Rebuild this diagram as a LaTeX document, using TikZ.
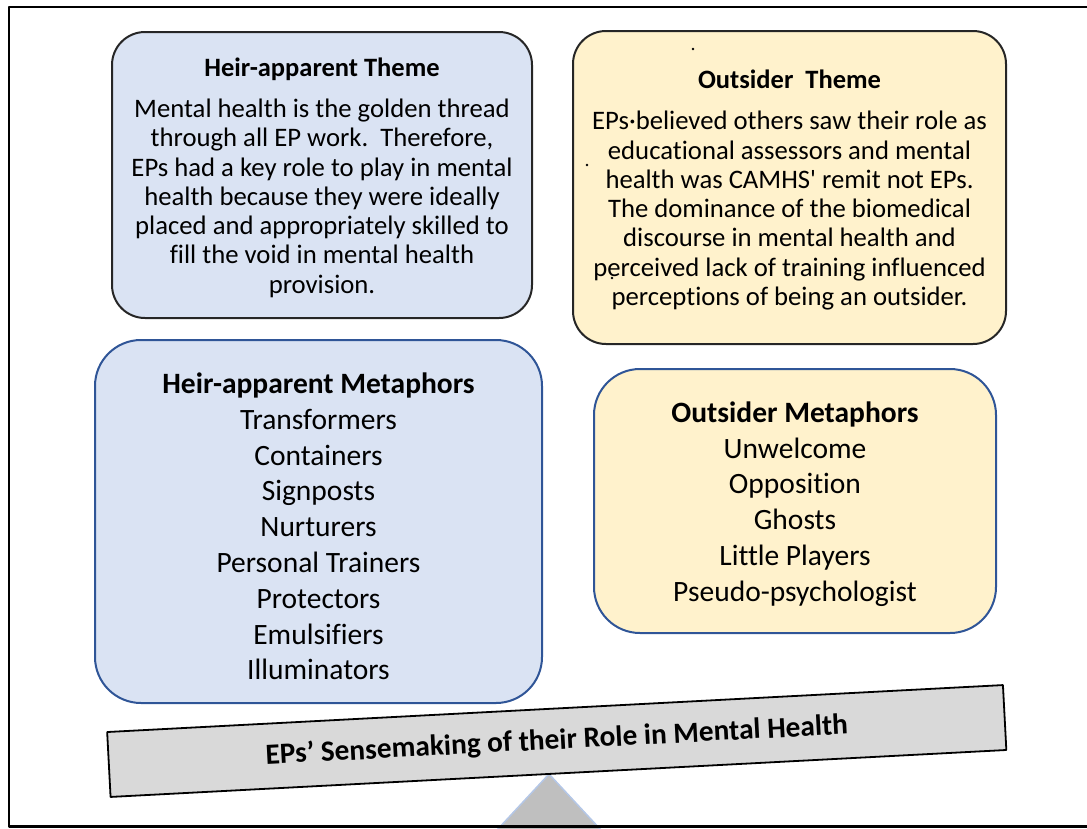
\documentclass[tikz,border=0pt]{standalone}
\usepackage{fontspec}
\setmainfont{Carlito}[Ligatures={TeXOff,CommonOff}]
\usepackage{tikz}
\definecolor{heirfill}{HTML}{DAE3F3}
\definecolor{outfill}{HTML}{FFF2CC}
\definecolor{metaline}{HTML}{2F5597}
\definecolor{beamfill}{HTML}{D9D9D9}
\definecolor{pivotfill}{HTML}{BFBFBF}
\definecolor{pivotline}{HTML}{B4C7E7}

\begin{document}
\begin{tikzpicture}[x=1pt,y=1pt,line join=round,
                    themetext/.style={align=center,font=\fontsize{26.7}{29.3}\selectfont},
                    metatext/.style={align=center,font=\fontsize{29.5}{35.8}\selectfont}]
  \tikzstyle{themebox}=[draw=black!85,line width=2pt,rounded corners=33pt,inner sep=0pt]
  \tikzstyle{metabox}=[draw=metaline,line width=2pt,rounded corners=46pt,inner sep=0pt]
  \tikzstyle{beambox}=[draw=black,line width=1.8pt,fill=beamfill,inner sep=0pt,
                       font=\bfseries\fontsize{29.3}{32}\selectfont]

  \useasboundingbox (0,0) rectangle (1087,-828);

  \node[themebox,fill=heirfill,minimum width=420,minimum height=286] (heirtheme) at (322,-175) {};
  \node[themebox,fill=outfill,minimum width=433,minimum height=313]  (outtheme)  at (789.5,-187.5) {};
  \node[metabox,fill=heirfill,minimum width=447,minimum height=363]  (heirmeta)  at (318.5,-521.5) {};
  \node[metabox,fill=outfill,minimum width=402,minimum height=264]   (outmeta)   at (795,-501) {};

  \node[themetext] (heirthemetext) at ([yshift=-2.5pt]heirtheme.center)
    {{\bfseries\fontsize{26.5}{28}\selectfont Heir-apparent Theme}\\[12pt]
     Mental health is the golden thread\\
     through all EP work.\ \ Therefore,\\
     EPs had a key role to play in mental\\
     health because they were ideally\\
     placed and appropriately skilled to\\
     fill the void in mental health\\
     provision.};
  \node[themetext] (outthemetext) at ([yshift=-2.5pt]outtheme.center)
    {{\bfseries\fontsize{26.5}{28}\selectfont Outsider\ \ Theme}\\[12pt]
     EPs·believed others saw their role as\\
     educational assessors and mental\\
     health was CAMHS' remit not EPs.\\
     The dominance of the biomedical\\
     discourse in mental health and\\
     perceived lack of training influenced\\
     perceptions of being an outsider.};
  \node[metatext] (heirmetatext) at ([yshift=-5pt]heirmeta.center)
    {\textbf{Heir-apparent Metaphors}\\
     Transformers\\ Containers\\ Signposts\\ Nurturers\\
     Personal Trainers\\ Protectors\\ Emulsifiers\\ Illuminators};
  \node[metatext] (outmetatext) at ([yshift=-3pt]outmeta.center)
    {\textbf{Outsider Metaphors}\\
     Unwelcome\\ Opposition\\ Ghosts\\ Little Players\\ Pseudo-psychologist};

  \fill (693,-49) circle (1.3);
  \fill (587,-165) circle (1.3);
  \fill (612,-278) circle (1.3);

  \filldraw[fill=pivotfill,draw=pivotline,line width=1.5pt] (549,-774) -- (497,-830) -- (601,-830) -- cycle;
  \node[beambox,rotate=3,minimum width=897,minimum height=65] (beam) at (556.75,-741)
    {EPs’ Sensemaking of their Role in Mental Health};

  \draw[line width=2.2pt] (1087,-7) -- (9,-7) -- (9,-826.5) -- (1087,-826.5);
\end{tikzpicture}
\end{document}
